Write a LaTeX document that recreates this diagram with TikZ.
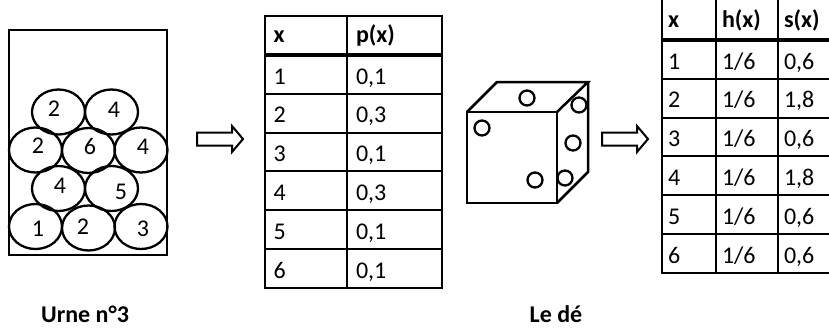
\documentclass[tikz,border=0pt]{standalone}
\usepackage{fontspec}
\setmainfont{Carlito}
\usetikzlibrary{matrix,shapes.geometric}

\newcommand{\bigfont}{\fontsize{24}{28}\selectfont}

\tikzset{
  ball/.style={ellipse, draw, line width=2.3pt, minimum width=53pt, minimum height=45pt, inner sep=0pt},
  num/.style={inner sep=0pt},
  cell/.style={draw, line width=2pt, align=left, inner ysep=0pt, outer sep=0pt, text height=29pt, text depth=9.8pt},
  head/.style={font=\bigfont\bfseries, text height=26pt, text depth=13pt},
  tab/.style={matrix of nodes, inner sep=0pt, outer sep=0pt, anchor=north west, row sep=-2pt, column sep=-2pt},
  fatarrow/.pic={\draw[line width=2pt] (0,-6.5) -- (35,-6.5) -- (35,-13) -- (46,0) -- (35,13) -- (35,6.5) -- (0,6.5) -- cycle;},
  caption/.style={font=\bigfont\bfseries, anchor=base, inner sep=0pt}
}

\begin{document}
\begin{tikzpicture}[x=1pt, y=-1pt, every node/.style={font=\bigfont}]
\useasboundingbox (0,0) rectangle (829,329);
\clip (0,0) rectangle (829,329);

% urn and balls
\draw[line width=2.5pt] (9,30) rectangle (167,255);
\foreach \bx/\by/\tx/\ty/\d [count=\i] in {
  35.5/226.5/38/229/1, 88.5/228/83/227/2, 141/226.5/143/229/3,
  58.5/188.5/60/186/4, 111.5/188.5/121/192/5,
  35.5/150/38/146/2, 88.5/150.5/90/146/6, 141/150/143/147/4,
  58.5/112/54/109/2, 111.5/112/114/110/4}{
  \node[ball] (ball\i) at (\bx,\by) {};
  \node[num] (n\i) at (\tx,\ty) {\d};
}
\node[caption] (urnlbl) at (85,322) {Urne n°3};

\pic (arrA) at (197,139) {fatarrow};

% law of the urn
\matrix (pt) at (263.5,15) [tab, nodes={cell, inner xsep=9pt},
  column 1/.style={nodes={text width=64.5pt}},
  column 2/.style={nodes={text width=77pt}},
  row 1/.style={nodes={head}}] {
  x & p(x) \\
  1 & 0,1 \\
  2 & 0,3 \\
  3 & 0,1 \\
  4 & 0,3 \\
  5 & 0,1 \\
  6 & 0,1 \\
};
\draw[line width=4pt] (pt-1-1.south west) -- (pt-1-2.south east);

% the die
\coordinate (fl) at (467,112);
\coordinate (fr) at (557,112);
\coordinate (frb) at (557,203);
\coordinate (flb) at (467,203);
\coordinate (bl) at (497,82);
\coordinate (br) at (588,82);
\coordinate (brb) at (588,172);
\draw[line width=2.5pt] (fl) -- (fr) -- (frb) -- (flb) -- cycle;
\draw[line width=2.5pt] (fl) -- (bl) -- (br) -- (fr);
\draw[line width=2.5pt] (br) -- (brb) -- (frb);
\foreach \px/\py in {527/98, 482/128, 535/180, 579/105, 573/143, 565/178}
  \draw[line width=2.3pt] (\px,\py) circle[radius=7.5];
\node[caption] (dielbl) at (556,322) {Le dé};

\pic (arrB) at (602,139) {fatarrow};

% laws of the die
\matrix (hs) at (661,-2) [tab, nodes={cell, inner xsep=6pt},
  column 1/.style={nodes={text width=42pt}},
  column 2/.style={nodes={text width=50pt}},
  column 3/.style={nodes={text width=41pt}},
  row 1/.style={nodes={head, text height=28pt}}] {
  x & h(x) & s(x) \\
  1 & 1/6 & 0,6 \\
  2 & 1/6 & 1,8 \\
  3 & 1/6 & 0,6 \\
  4 & 1/6 & 1,8 \\
  5 & 1/6 & 0,6 \\
  6 & 1/6 & 0,6 \\
};
\draw[line width=4pt] (hs-1-1.south west) -- (hs-1-3.south east);
\end{tikzpicture}
\end{document}
